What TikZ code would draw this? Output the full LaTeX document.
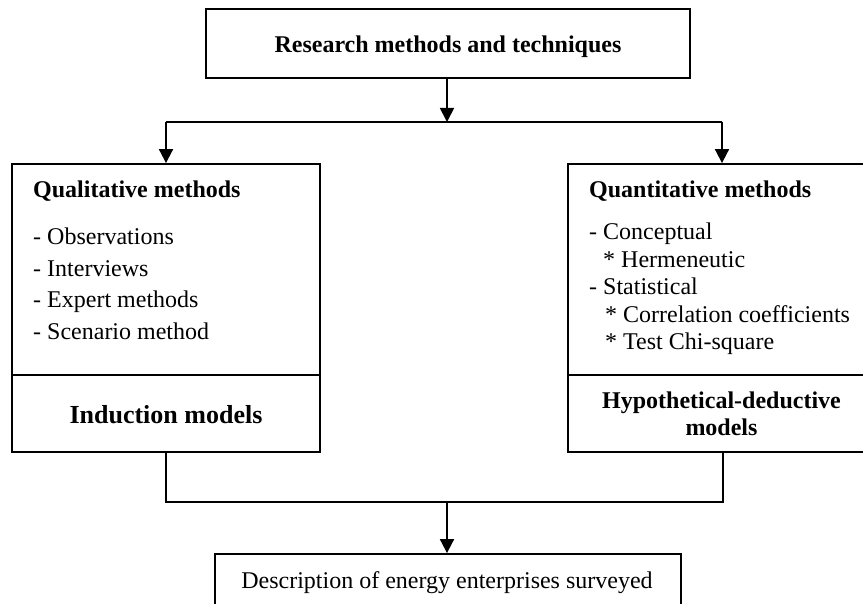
\documentclass[tikz,border=0pt]{standalone}
\usepackage{fontspec}
\setmainfont{Liberation Serif}
\usetikzlibrary{arrows.meta}
\begin{document}
\begin{tikzpicture}[x=1pt,y=-1pt,
  frame/.style={draw, line width=1.8pt, rectangle, inner sep=0pt},
  lbl/.style={inner sep=0pt, anchor=base west, font=\fontsize{24pt}{28pt}\selectfont},
  clbl/.style={inner sep=0pt, anchor=base, font=\fontsize{24pt}{28pt}\selectfont},
  conn/.style={line width=1.8pt},
  arr/.style={line width=1.8pt, -{Triangle[width=14pt,length=14pt]}}]
\useasboundingbox (0,0) rectangle (863,604);
\clip (0,0) rectangle (863,604);

% boxes
\node[frame, minimum width=484pt, minimum height=69pt] (top) at (448,43.5) {};
\node[frame, minimum width=308pt, minimum height=288pt] (left) at (166,308) {};
\node[frame, minimum width=308pt, minimum height=288pt] (right) at (722,308) {};
\node[frame, minimum width=466pt, minimum height=80pt] (bottom) at (448,594) {};

% dividers between method lists and model titles
\coordinate (dv) at (0,375);
\draw[conn] (left.west |- dv) -- (left.east |- dv);
\draw[conn] (right.west |- dv) -- (right.east |- dv);

% texts
\node[clbl, font=\fontsize{24pt}{28pt}\selectfont\bfseries] (toptxt) at (448,53) {Research methods and techniques};

\node[lbl, font=\fontsize{24pt}{28pt}\selectfont\bfseries] (qualh) at (33,198) {Qualitative methods};
\node[lbl] (q1) at (33,245) {- Observations};
\node[lbl] (q2) at (33,277) {- Interviews};
\node[lbl] (q3) at (33,308) {- Expert methods};
\node[lbl] (q4) at (33,340) {- Scenario method};
\node[clbl, font=\fontsize{26pt}{30pt}\selectfont\bfseries] (indm) at (166,423) {Induction models};

\node[lbl, font=\fontsize{24pt}{28pt}\selectfont\bfseries] (quanth) at (589,198) {Quantitative methods};
\node[lbl] (n1) at (589,240) {- Conceptual};
\node[lbl] (n2) at (603,268) {* Hermeneutic};
\node[lbl] (n3) at (589,295) {- Statistical};
\node[lbl] (n4) at (605,323) {* Correlation coefficients};
\node[lbl] (n5) at (605,350) {* Test Chi-square};
\node[clbl, font=\fontsize{24pt}{28pt}\selectfont\bfseries] (hypm1) at (721.5,408) {Hypothetical-deductive};
\node[clbl, font=\fontsize{24pt}{28pt}\selectfont\bfseries] (hypm2) at (721.5,435) {models};

\node[clbl] (bottxt) at (447,588) {Description of energy enterprises surveyed};

% connectors
\coordinate (sl) at (166,122);
\coordinate (sr) at (722,122);
\draw[conn] (sl) -- (sr);
\draw[arr] (top.south -| 447,0) -- (447,122);
\draw[arr] (sl) -- (left.north);
\draw[arr] (sr) -- (right.north);

\coordinate (jl) at (166,502);
\coordinate (jr) at (723,502);
\draw[conn] (left.south) -- (jl) -- (jr) -- (jr |- right.south);
\draw[arr] (447,502) -- (bottom.north -| 447,0);
\end{tikzpicture}
\end{document}
